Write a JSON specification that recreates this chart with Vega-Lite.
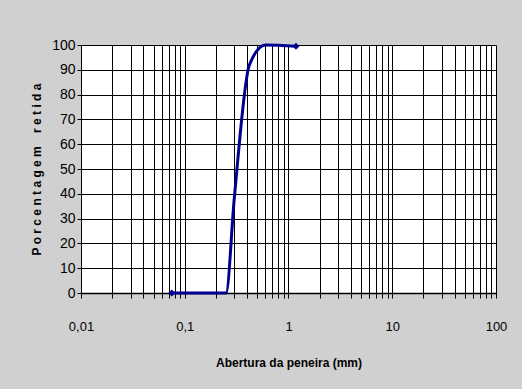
{
  "$schema": "https://vega.github.io/schema/vega-lite/v6.json",
  "width": 415,
  "height": 248,
  "autosize": {"type": "none"},
  "padding": {"left": 81, "top": 45, "right": 26, "bottom": 96},
  "background": "#d0d0d0",
  "config": {
    "view": {"fill": "white", "stroke": null},
    "font": "Liberation Sans, Arial, sans-serif"
  },
  "data": {
    "values": [
      {"abertura": 0.075, "retida": 0},
      {"abertura": 0.15, "retida": 0},
      {"abertura": 0.25, "retida": 0},
      {"abertura": 0.3, "retida": 38},
      {"abertura": 0.42, "retida": 92},
      {"abertura": 0.6, "retida": 100},
      {"abertura": 1.18, "retida": 99.5}
    ]
  },
  "encoding": {
    "x": {
      "field": "abertura",
      "type": "quantitative",
      "scale": {"type": "log", "domain": [0.01, 100], "nice": false},
      "axis": {
        "title": "Abertura da peneira (mm)",
        "values": [0.01,0.02,0.03,0.04,0.05,0.06,0.07,0.08,0.09,0.1,0.2,0.3,0.4,0.5,0.6,0.7,0.8,0.9,1,2,3,4,5,6,7,8,9,10,20,30,40,50,60,70,80,90,100],
        "labelExpr": "abs(log(datum.value)/LN10 - round(log(datum.value)/LN10)) < 0.000001 ? replace(format(datum.value, '~g'), '.', ',') : ''",
        "grid": true,
        "gridColor": "black",
        "gridOpacity": 1,
        "gridWidth": 1,
        "domainColor": "black",
        "domainWidth": 1.5,
        "tickColor": "black",
        "tickSize": 5,
        "labelPadding": 22,
        "labelFontSize": 13,
        "labelColor": "black",
        "labelFlush": false,
        "labelOverlap": false,
        "titleFontSize": 12,
        "titleFontWeight": "bold",
        "titleColor": "black",
        "titlePadding": 24
      }
    },
    "y": {
      "field": "retida",
      "type": "quantitative",
      "scale": {"domain": [0, 100], "nice": false},
      "axis": {
        "title": "P o r c e n t a g e m \u00a0 \u00a0r e t i d a",
        "values": [0,10,20,30,40,50,60,70,80,90,100],
        "grid": true,
        "gridColor": "black",
        "gridOpacity": 1,
        "gridWidth": 1,
        "domainColor": "black",
        "tickColor": "black",
        "tickSize": 4,
        "labelPadding": 2,
        "labelFontSize": 14,
        "labelColor": "black",
        "labelFlush": false,
        "titleFontSize": 12,
        "titleFontWeight": "bold",
        "titleColor": "black",
        "titlePadding": 8
      }
    }
  },
  "layer": [
    {
      "mark": {"type": "line", "color": "#000090", "strokeWidth": 3, "interpolate": "monotone"}
    },
    {
      "transform": [{"filter": "datum.abertura < 0.1 || datum.abertura > 1"}],
      "mark": {"type": "point", "shape": "diamond", "filled": true, "color": "#000090", "size": 50, "opacity": 1}
    }
  ]
}
